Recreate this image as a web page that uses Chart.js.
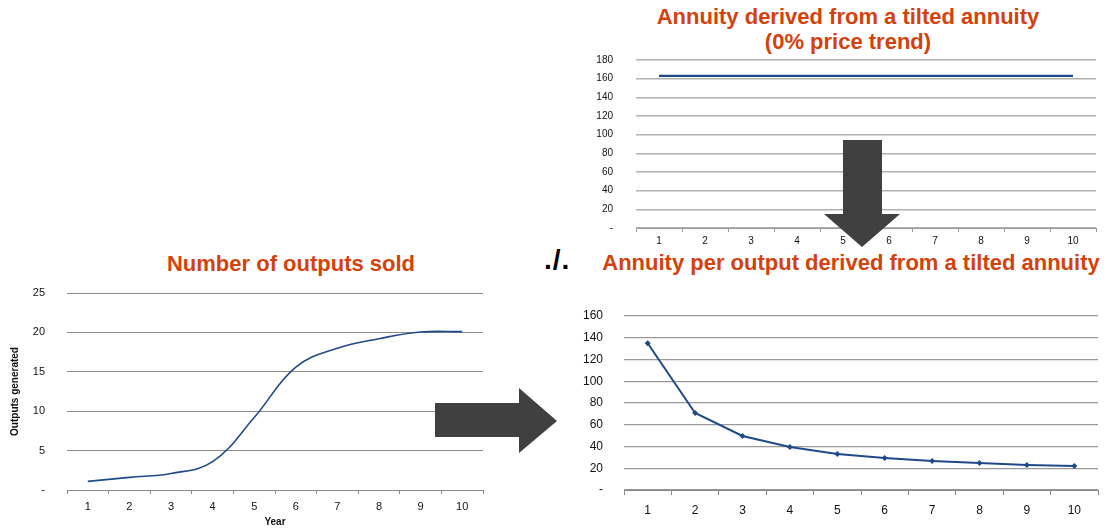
<!DOCTYPE html>
<html>
<head>
<meta charset="utf-8">
<script src="https://cdn.jsdelivr.net/npm/chart.js@4.4.1/dist/chart.umd.min.js"></script>
<style>
  body { margin: 0; width: 1108px; height: 528px; background: #fff; position: relative; overflow: hidden; font-family: "Liberation Sans", Arial, sans-serif; }
  canvas { position: absolute; }
  .title { position: absolute; color: #D4420C; font-weight: bold; font-size: 22px; white-space: nowrap; text-align: center; line-height: 25px; }
  #divider { position: absolute; left: 544px; top: 244px; font-size: 28px; font-weight: bold; letter-spacing: 1px; color: #000; }
  #arrows { position: absolute; left: 0; top: 0; }
</style>
</head>
<body>
<div class="title" style="left:91px; top:251px; width:400px;">Number of outputs sold</div>
<div class="title" style="left:598px; top:4px; width:500px;">Annuity derived from a tilted annuity<br>(0% price trend)</div>
<div class="title" style="left:551px; top:250px; width:600px;">Annuity per output derived from a tilted annuity</div>
<div id="divider">./.</div>

<canvas id="outputsChart" width="500" height="248" style="left:0; top:280px;"></canvas>
<canvas id="annuityChart" width="548" height="200" style="left:560px; top:50px;"></canvas>
<canvas id="perOutputChart" width="568" height="228" style="left:540px; top:300px;"></canvas>

<svg id="arrows" width="1108" height="528">
  <polygon points="435,403 519,403 519,388 557,421 519,453 519,437 435,437" fill="#404040"/>
  <polygon points="843,140 882,140 882,214 900,214 862,247 824,214 843,214" fill="#404040"/>
</svg>

<script>
  // Data
  const years = ['1', '2', '3', '4', '5', '6', '7', '8', '9', '10'];
  const outputsSold = [1.1, 1.6, 2.1, 3.6, 9.2, 15.6, 18.0, 19.2, 20.05, 20.1];
  const tiltedAnnuity = [162.9, 162.9, 162.9, 162.9, 162.9, 162.9, 162.9, 162.9, 162.9, 162.9];
  const annuityPerOutput = [135, 70.8, 49.7, 39.5, 33, 29.4, 26.7, 24.8, 23, 22];

  const lineColor = '#1F4A8A';
  const fontFamily = '"Liberation Sans", Arial, sans-serif';

  // Zero is shown as a dash like in the spreadsheet
  function dashZero(value) {
    return value === 0 ? '-' : value;
  }

  // Builds one line chart with fixed axis sizes so the plot area lands where it should
  function buildChart(canvasId, cfg) {
    const ctx = document.getElementById(canvasId).getContext('2d');
    return new Chart(ctx, {
      type: 'line',
      data: {
        labels: years,
        datasets: [{
          data: cfg.values,
          borderColor: lineColor,
          backgroundColor: lineColor,
          borderWidth: cfg.lineWidth,
          tension: cfg.tension,
          pointStyle: 'rectRot',
          pointRadius: cfg.pointRadius,
          pointBorderWidth: 0,
          fill: false
        }]
      },
      options: {
        responsive: false,
        animation: false,
        devicePixelRatio: 1,
        layout: { padding: cfg.padding },
        plugins: { legend: { display: false }, tooltip: { enabled: false } },
        scales: {
          x: {
            offset: true,
            grid: {
              offset: true,
              drawOnChartArea: false,
              drawTicks: true,
              tickLength: cfg.tickLength,
              color: cfg.axisColor
            },
            border: { color: cfg.axisColor, width: 1 },
            ticks: {
              color: '#111',
              padding: cfg.xPadding,
              maxRotation: 0,
              font: { family: fontFamily, size: cfg.fontSize }
            },
            title: cfg.xTitle ? {
              display: true,
              text: cfg.xTitle,
              color: '#111',
              padding: 0,
              font: { family: fontFamily, size: 10, weight: 'bold' }
            } : { display: false },
            afterFit: function(scale) { scale.height = cfg.xHeight; }
          },
          y: {
            min: 0,
            max: cfg.max,
            grid: {
              // invisible tick marks keep the labels away from the plot
              drawTicks: true,
              tickLength: cfg.yGap,
              tickColor: 'rgba(0,0,0,0)',
              color: cfg.gridColor,
              lineWidth: cfg.gridWidth
            },
            border: { display: false },
            ticks: {
              stepSize: cfg.step,
              color: '#111',
              padding: 0,
              callback: dashZero,
              font: { family: fontFamily, size: cfg.fontSize }
            },
            title: cfg.yTitle ? {
              display: true,
              text: cfg.yTitle,
              color: '#111',
              padding: { top: 9 },
              font: { family: fontFamily, size: 10, weight: 'bold' }
            } : { display: false },
            afterFit: function(scale) { scale.width = cfg.yWidth; }
          }
        }
      }
    });
  }

  // Number of outputs sold (smoothed line)
  buildChart('outputsChart', {
    values: outputsSold,
    lineWidth: 1.6,
    tension: 0.4,
    pointRadius: 0,
    padding: { top: 13, right: 17 },
    max: 25, step: 5,
    fontSize: 11,
    tickLength: 4, xPadding: 6, xHeight: 38,
    yGap: 22, yWidth: 67,
    axisColor: '#888', gridColor: '#8a8a8a', gridWidth: 1,
    xTitle: 'Year', yTitle: 'Outputs generated'
  });

  // Flat annuity, 0% price trend
  buildChart('annuityChart', {
    values: tiltedAnnuity,
    lineWidth: 2.2,
    tension: 0,
    pointRadius: 0,
    padding: { top: 10, right: 12 },
    max: 180, step: 20,
    fontSize: 10,
    tickLength: 4, xPadding: 3, xHeight: 22,
    yGap: 23, yWidth: 76,
    axisColor: '#999', gridColor: '#b0b0b0', gridWidth: 1.5
  });

  // Annuity per output
  buildChart('perOutputChart', {
    values: annuityPerOutput,
    lineWidth: 2,
    tension: 0,
    pointRadius: 3,
    padding: { top: 16, right: 10 },
    max: 160, step: 20,
    fontSize: 12,
    tickLength: 5, xPadding: 8, xHeight: 38,
    yGap: 21, yWidth: 84,
    axisColor: '#888', gridColor: '#999', gridWidth: 1.2
  });
</script>
</body>
</html>
